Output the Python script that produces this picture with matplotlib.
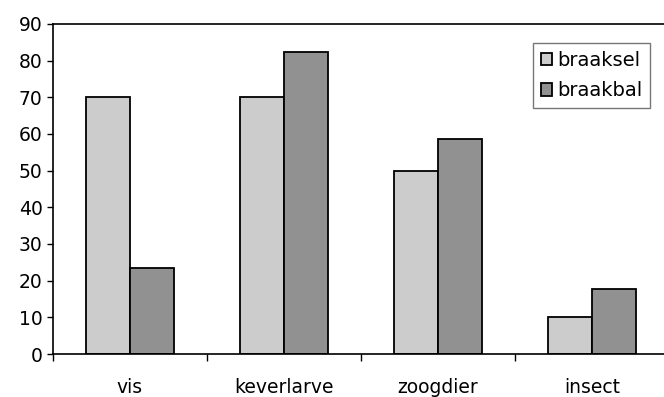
import matplotlib
matplotlib.use("Agg")
import matplotlib.pyplot as plt
import numpy as np

categories = ["vis", "keverlarve", "zoogdier", "insect"]
braaksel = [70, 70, 50, 10]
braakbal = [23.5, 82.3, 58.7, 17.6]
series_names = ["braaksel", "braakbal"]
colors = ["#cccccc", "#919191"]
yticks = [0, 10, 20, 30, 40, 50, 60, 70, 80, 90]

plt.rcParams['font.family'] = ['DejaVu Sans']

W, H = 664, 397
fig = plt.figure(figsize=(W/100, H/100), dpi=100)
ax = fig.add_axes([53/W, (H-354)/H, 616/W, 330/H])

x = np.arange(len(categories))
bw = 44/154
ax.bar(x - bw/2, braaksel, bw, color=colors[0], edgecolor="black", linewidth=1.3, label=series_names[0])
ax.bar(x + bw/2, braakbal, bw, color=colors[1], edgecolor="black", linewidth=1.3, label=series_names[1])

ax.set_xlim(-0.5, len(categories) - 0.5)
ax.set_ylim(0, 90)
ax.set_yticks(yticks)
ax.tick_params(axis='y', direction='out', length=4.5, width=1, labelsize=13.5, pad=3)
ax.set_xticks(x)
ax.set_xticklabels(categories)
ax.tick_params(axis='x', which='major', length=0, labelsize=13.5, pad=17)
ax.set_xticks(np.arange(-0.5, len(categories) - 0.5, 1), minor=True)
ax.tick_params(axis='x', which='minor', direction='out', length=5, width=1)

for s in ['top', 'left', 'bottom']:
    ax.spines[s].set_linewidth(1.2)
ax.spines['right'].set_visible(False)

leg = ax.legend(loc='upper left', bbox_to_anchor=((533-53)/616, (354-43)/330),
                fontsize=14, frameon=True, fancybox=False, edgecolor="#555555",
                handlelength=0.6, handleheight=0.6, handletextpad=0.25,
                borderpad=0.4, labelspacing=0.6, borderaxespad=0)
leg.get_frame().set_linewidth(1.0)

fig.savefig("out.png", dpi=100)
